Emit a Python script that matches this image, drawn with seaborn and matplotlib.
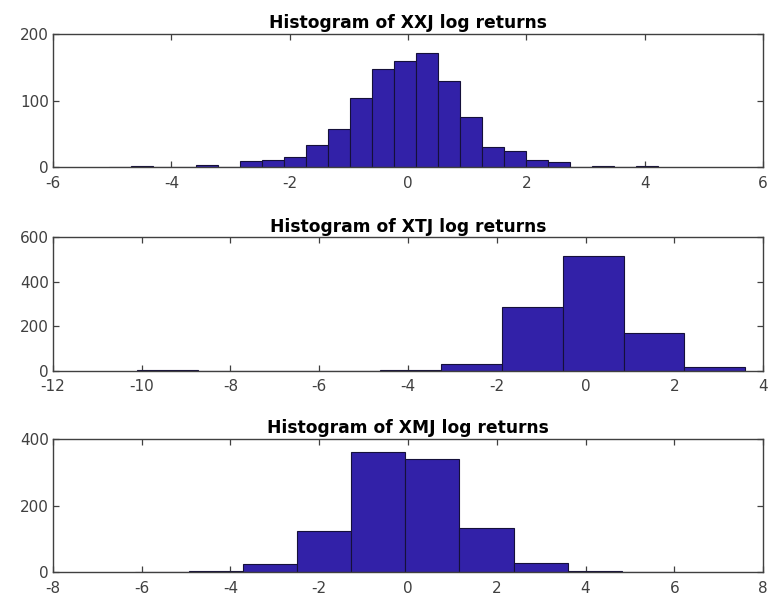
import numpy as np
import pandas as pd
import matplotlib
matplotlib.use("Agg")
import matplotlib.pyplot as plt
import seaborn as sns

# ---- data ----
xxj_counts = [1, 2, 1, 0, 3, 1, 9, 11, 15, 34, 58, 104, 147, 159, 171, 130, 75, 31, 24, 11, 8, 1, 2, 0, 2]
xxj_range = (-5.06, 4.22)

xtj_counts = [1, 0, 0, 0, 5, 29, 288, 517, 172, 15]
xtj_range = (-10.1, 3.6)

xmj_counts = [1, 4, 24, 125, 360, 340, 133, 29, 5, 1]
xmj_range = (-6.16, 6.04)

titles = ["Histogram of XXJ log returns", "Histogram of XTJ log returns", "Histogram of XMJ log returns"]
xlims = [(-6, 6), (-12, 4), (-8, 8)]
ylims = [(0, 200), (0, 600), (0, 400)]
yticks = [[0, 100, 200], [0, 200, 400, 600], [0, 200, 400]]

sns.set_theme(style="white")
plt.rcParams['font.family'] = ['DejaVu Sans']
plt.rcParams['axes.unicode_minus'] = False

fig = plt.figure(figsize=(7.68, 5.99), dpi=100)
left, width, height = 0.069, 0.9245, 0.2225
bottoms = [0.7207, 0.3811, 0.0446]

bar_color = "#3221a8"
spine_color = "#404040"

for i, (counts, rng) in enumerate([(xxj_counts, xxj_range), (xtj_counts, xtj_range), (xmj_counts, xmj_range)]):
    ax = fig.add_axes([left, bottoms[i], width, height])
    nb = len(counts)
    step = (rng[1] - rng[0]) / nb
    centers = rng[0] + step * (np.arange(nb) + 0.5)
    df = pd.DataFrame({"x": centers, "w": counts})
    sns.histplot(data=df, x="x", weights="w", bins=nb, binrange=rng, ax=ax,
                 color=bar_color, alpha=1.0, edgecolor="#15103a", linewidth=0.8)
    ax.set_xlim(*xlims[i])
    ax.set_ylim(*ylims[i])
    ax.set_xticks(np.arange(xlims[i][0], xlims[i][1] + 1, 2))
    ax.set_yticks(yticks[i])
    ax.set_xlabel("")
    ax.set_ylabel("")
    ax.set_title(titles[i], fontsize=12.3, fontweight="bold", color="black", pad=4)
    for s in ax.spines.values():
        s.set_visible(True)
        s.set_color(spine_color)
        s.set_linewidth(1.0)
    ax.tick_params(axis="both", which="major", direction="in", length=4.5, width=0.9,
                   colors=spine_color, labelcolor="#404040", labelsize=11,
                   top=True, right=True, bottom=True, left=True)
    ax.tick_params(axis="x", pad=6)
    ax.tick_params(axis="y", pad=3)
    ax.set_facecolor("white")

fig.savefig("out.png", dpi=100, facecolor="white")
